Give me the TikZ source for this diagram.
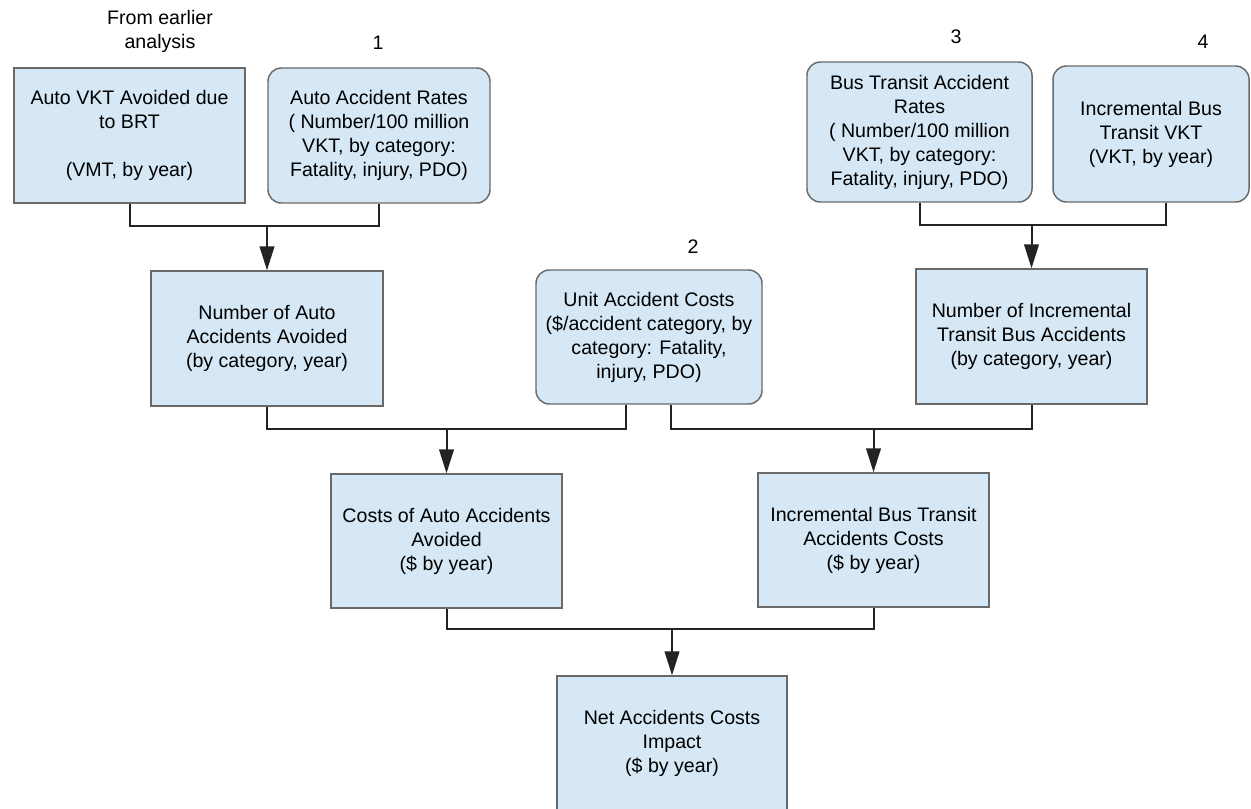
\documentclass[tikz,border=0pt]{standalone}
\usepackage{fontspec}
\setmainfont{Liberation Sans}
\usetikzlibrary{arrows.meta}

\definecolor{boxfill}{RGB}{214,232,245}
\definecolor{boxline}{RGB}{105,105,105}
\definecolor{wire}{RGB}{35,35,35}

\begin{document}
\begin{tikzpicture}[x=0.75pt,y=-0.75pt,
  font=\fontsize{14.7}{18}\selectfont,
  boxdim/.style 2 args={minimum width=#1*0.75pt, minimum height=#2*0.75pt},
  sqbox/.style={draw=boxline, line width=1.1pt, fill=boxfill, inner sep=0pt,
                align=center},
  rdbox/.style={sqbox, rounded corners=10pt},
  wireline/.style={draw=wire, line width=1.5pt},
  flow/.style={wireline, -{Triangle[length=18pt,width=11pt]}},
  tag/.style={inner sep=0pt, align=center}
]
\clip (0,0) rectangle (1251,808);
\fill[white] (0,0) rectangle (1251,808);

% numbered and annotated sources
\node[tag] (src) at (160,31.5) {From earlier\\analysis};
\node[tag] (n1) at (378,43) {1};
\node[tag] (n2) at (693,247) {2};
\node[tag] (n3) at (956,37) {3};
\node[tag] (n4) at (1203,42) {4};

% top row
\node[sqbox, boxdim={231}{135}] (A) at (129.5,135.5)
  {Auto VKT Avoided due\\to BRT\\\mbox{}\\(VMT, by year)};
\node[rdbox, boxdim={222}{135}] (B) at (379,135.5)
  {Auto Accident Rates\\( Number/100 million\\VKT, by category:\\Fatality, injury, PDO)};
\node[rdbox, boxdim={225}{140}] (D) at (919.5,132)
  {Bus Transit Accident\\Rates\\( Number/100 million\\VKT, by category:\\Fatality, injury, PDO)};
\node[rdbox, boxdim={196}{136}] (E) at (1151,134)
  {Incremental Bus\\Transit VKT\\(VKT, by year)};

% second row
\node[sqbox, boxdim={232}{135}] (C) at (267,338.5)
  {Number of Auto\\Accidents Avoided\\(by category, year)};
\node[rdbox, boxdim={226}{134}] (G) at (649,337)
  {Unit Accident Costs\\(\$/accident category, by\\category: Fatality,\\injury, PDO)};
\node[sqbox, boxdim={231}{135}] (F) at (1031.5,336.5)
  {Number of Incremental\\Transit Bus Accidents\\(by category, year)};

% third row
\node[sqbox, boxdim={231}{134}] (H) at (446.5,541)
  {Costs of Auto Accidents\\Avoided\\(\$ by year)};
\node[sqbox, boxdim={231}{134}] (I) at (873.5,540)
  {Incremental Bus Transit\\Accidents Costs\\(\$ by year)};

% result
\node[sqbox, boxdim={230}{135}] (N) at (672,743.5)
  {Net Accidents Costs\\Impact\\(\$ by year)};

% junction points of the connectors
\coordinate (jAB) at (267,226);
\coordinate (jDE) at (1031.5,225);
\coordinate (jCG) at (446.5,429);
\coordinate (jGF) at (873.5,429);
\coordinate (jHI) at (672,629);

% connectors
\draw[wireline] (A.south) |- (jAB) -| (B.south);
\draw[flow] (jAB) -- (C.north);

\draw[wireline] (D.south) |- (jDE) -| ([xshift=11.25pt]E.south);
\draw[flow] (jDE) -- (F.north);

\draw[wireline] (C.south) |- (jCG) -| ([xshift=-17.25pt]G.south);
\draw[flow] (jCG) -- (H.north);

\draw[wireline] ([xshift=16.5pt]G.south) |- (jGF) -| (F.south);
\draw[flow] (jGF) -- (I.north);

\draw[wireline] (H.south) |- (jHI) -| (I.south);
\draw[flow] (jHI) -- (N.north);
\end{tikzpicture}
\end{document}
